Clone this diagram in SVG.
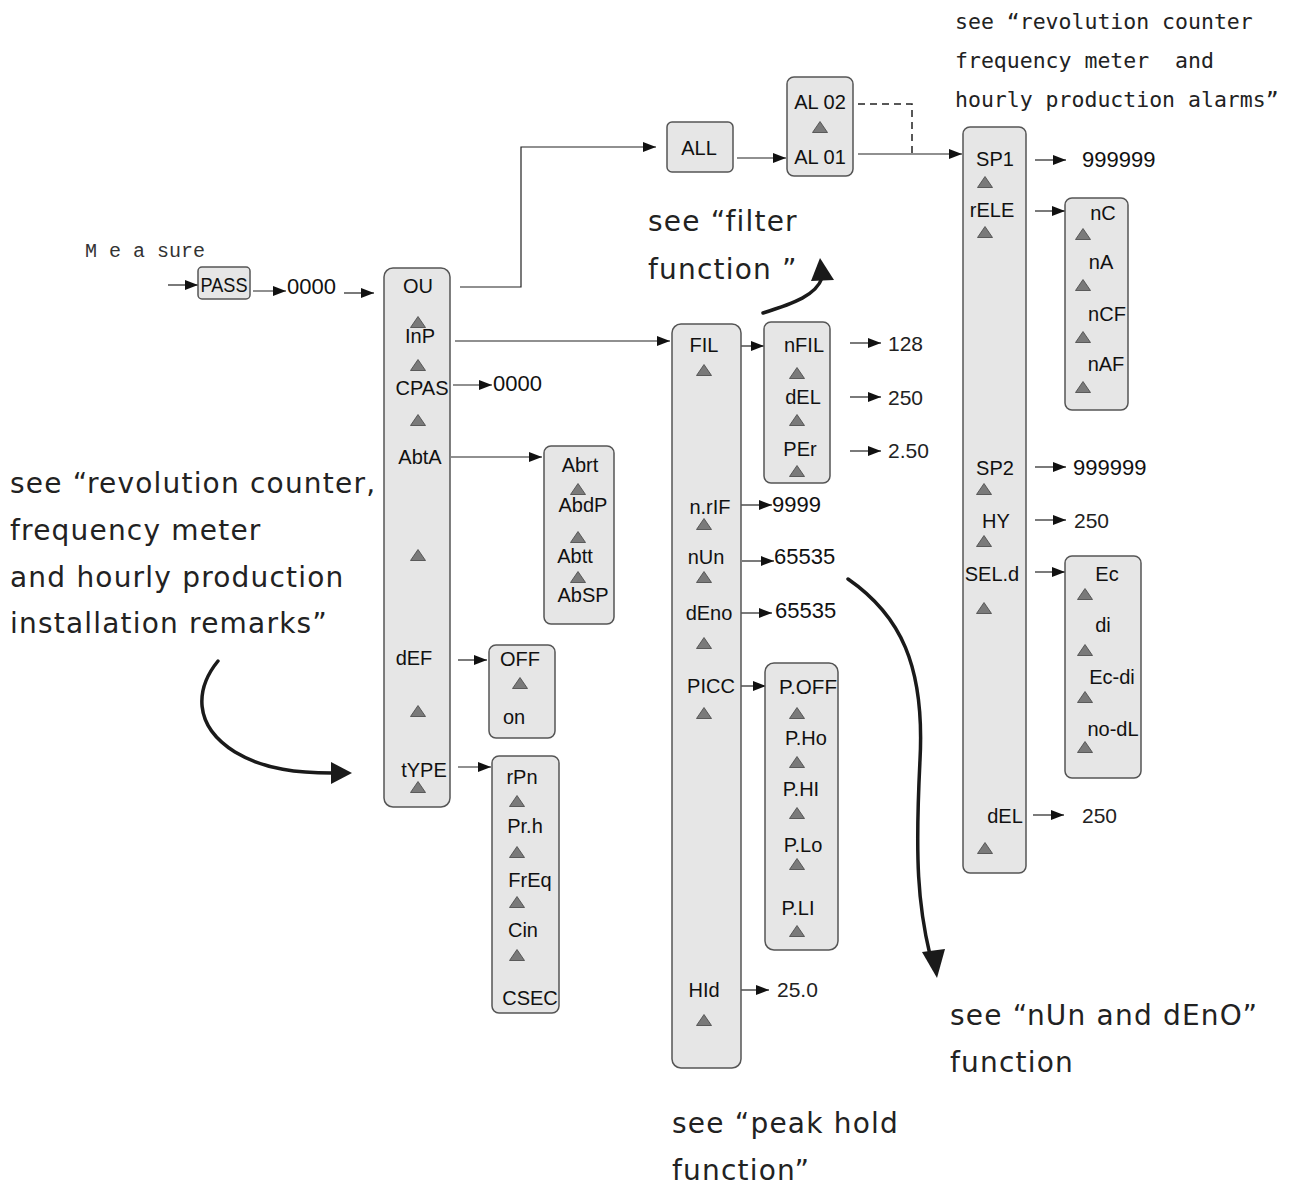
<svg xmlns="http://www.w3.org/2000/svg" xmlns:xlink="http://www.w3.org/1999/xlink" width="1300" height="1187" viewBox="0 0 1300 1187">
  <style>
    .box { fill: #e6e6e6; stroke: #555; stroke-width: 1.5; }
    .lbl { font-family: "Liberation Sans", Arial, sans-serif; font-size: 20px; fill: #111; text-anchor: middle; }
    .num { font-family: "Liberation Sans", Arial, sans-serif; font-size: 22px; fill: #111; }
    .val { font-family: "Liberation Sans", Arial, sans-serif; font-size: 21px; fill: #222; }
    .note { font-family: "DejaVu Sans", Verdana, sans-serif; font-size: 28px; letter-spacing: 1.2px; fill: #222; }
    .mono { font-family: "DejaVu Sans Mono", "Liberation Mono", monospace; font-size: 21.5px; fill: #222; }
    .meas { font-family: "Liberation Mono", monospace; font-size: 20px; fill: #333; }
    .wire { fill: none; stroke: #222; stroke-width: 1.2; }
    .dash { fill: none; stroke: #222; stroke-width: 1.5; stroke-dasharray: 7 5; }
    .bend { fill: none; stroke: #1a1a1a; stroke-width: 3.5; stroke-linecap: round; }
    .head { fill: #1a1a1a; }
  </style>
  <defs>
    <marker id="arr" viewBox="0 0 13 10" refX="13" refY="5" markerWidth="13" markerHeight="10" markerUnits="userSpaceOnUse" orient="auto">
      <path d="M0,0 L13,5 L0,10 Z" fill="#111"/>
    </marker>
    <path id="tri" d="M0,-5.5 L7.5,5.5 L-7.5,5.5 Z" fill="#7a7a7a" stroke="#444" stroke-width="0.8"/>
  </defs>

  <!-- free text notes -->
  <g id="notes">
    <text class="mono" x="955" y="29">see “revolution counter</text>
    <text class="mono" x="955" y="68" xml:space="preserve">frequency meter  and</text>
    <text class="mono" x="955" y="107">hourly production alarms”</text>
    <text class="meas" x="85" y="257" xml:space="preserve">M e a sure</text>
    <text class="note" x="648" y="231">see “filter</text>
    <text class="note" x="648" y="279">function ”</text>
    <text class="note" x="10" y="493">see “revolution counter,</text>
    <text class="note" x="10" y="540">frequency meter</text>
    <text class="note" x="10" y="587">and hourly production</text>
    <text class="note" x="10" y="633">installation remarks”</text>
    <text class="note" x="950" y="1025">see “nUn and dEnO”</text>
    <text class="note" x="950" y="1072">function</text>
    <text class="note" x="672" y="1133">see “peak hold</text>
    <text class="note" x="672" y="1180">function”</text>
  </g>

  <!-- connectors -->
  <g id="connectors">
    <line class="wire" x1="168" y1="285" x2="198" y2="285" marker-end="url(#arr)"/>
    <line class="wire" x1="253" y1="291" x2="286" y2="291" marker-end="url(#arr)"/>
    <line class="wire" x1="344" y1="293" x2="374" y2="293" marker-end="url(#arr)"/>
    <polyline class="wire" points="460,287 521,287 521,147 656,147" marker-end="url(#arr)"/>
    <line class="wire" x1="737" y1="158" x2="786" y2="158" marker-end="url(#arr)"/>
    <line class="wire" x1="858" y1="154" x2="962" y2="154" marker-end="url(#arr)"/>
    <polyline class="dash" points="858,104 912,104 912,154"/>
    <line class="wire" x1="455" y1="341" x2="670" y2="341" marker-end="url(#arr)"/>
    <line class="wire" x1="453" y1="385" x2="492" y2="385" marker-end="url(#arr)"/>
    <line class="wire" x1="451" y1="457" x2="542" y2="457" marker-end="url(#arr)"/>
    <line class="wire" x1="458" y1="660" x2="487" y2="660" marker-end="url(#arr)"/>
    <line class="wire" x1="458" y1="767" x2="491" y2="767" marker-end="url(#arr)"/>
    <line class="wire" x1="736" y1="346" x2="764" y2="346" marker-end="url(#arr)"/>
    <line class="wire" x1="850" y1="343" x2="881" y2="343" marker-end="url(#arr)"/>
    <line class="wire" x1="850" y1="397" x2="881" y2="397" marker-end="url(#arr)"/>
    <line class="wire" x1="850" y1="451" x2="881" y2="451" marker-end="url(#arr)"/>
    <line class="wire" x1="741" y1="505" x2="772" y2="505" marker-end="url(#arr)"/>
    <line class="wire" x1="742" y1="561" x2="774" y2="561" marker-end="url(#arr)"/>
    <line class="wire" x1="741" y1="613" x2="772" y2="613" marker-end="url(#arr)"/>
    <line class="wire" x1="735" y1="686" x2="766" y2="686" marker-end="url(#arr)"/>
    <line class="wire" x1="738" y1="990" x2="769" y2="990" marker-end="url(#arr)"/>
    <line class="wire" x1="1035" y1="160" x2="1066" y2="160" marker-end="url(#arr)"/>
    <line class="wire" x1="1035" y1="211" x2="1065" y2="211" marker-end="url(#arr)"/>
    <line class="wire" x1="1035" y1="467" x2="1066" y2="467" marker-end="url(#arr)"/>
    <line class="wire" x1="1035" y1="520" x2="1066" y2="520" marker-end="url(#arr)"/>
    <line class="wire" x1="1035" y1="572" x2="1065" y2="572" marker-end="url(#arr)"/>
    <line class="wire" x1="1033" y1="815" x2="1064" y2="815" marker-end="url(#arr)"/>

    <!-- bold pointer arrows to the referenced sections -->
    <path class="bend" d="M218,661 C196,688 192,725 235,752 C265,770 300,773 332,773"/>
    <path class="head" d="M352,773 L331,762 L331,784 Z"/>
    <path class="bend" d="M763,313 C795,303 816,295 822,278"/>
    <path class="head" d="M820,258 L811,281 L834,280 Z"/>
    <path class="bend" d="M848,579 C900,615 925,665 920,760 C915,860 918,905 930,955"/>
    <path class="head" d="M937,978 L922,952 L945,949 Z"/>
  </g>

  <!-- entry -->
  <g id="pass">
    <rect class="box" x="198" y="267" width="52" height="32" rx="4"/>
    <text class="lbl" x="224" y="292" textLength="47" lengthAdjust="spacingAndGlyphs">PASS</text>
  </g>
  <text id="pass-code" class="num" x="287" y="294">0000</text>

  <!-- main menu column -->
  <g id="menu-main">
    <rect class="box" x="384" y="268" width="66" height="539" rx="9"/>
    <text class="lbl" x="418" y="293">OU</text>
    <use xlink:href="#tri" x="418" y="322"/>
    <text class="lbl" x="420" y="343">InP</text>
    <use xlink:href="#tri" x="418" y="365"/>
    <text class="lbl" x="422" y="395">CPAS</text>
    <use xlink:href="#tri" x="418" y="420"/>
    <text class="lbl" x="420" y="464">AbtA</text>
    <use xlink:href="#tri" x="418" y="555"/>
    <text class="lbl" x="414" y="665">dEF</text>
    <use xlink:href="#tri" x="418" y="711"/>
    <text class="lbl" x="424" y="777">tYPE</text>
    <use xlink:href="#tri" x="418" y="787"/>
  </g>
  <text id="cpas-code" class="num" x="493" y="391">0000</text>

  <g id="menu-abta">
    <rect class="box" x="544" y="446" width="70" height="178" rx="7"/>
    <text class="lbl" x="580" y="472">Abrt</text>
    <use xlink:href="#tri" x="578" y="489"/>
    <text class="lbl" x="583" y="512">AbdP</text>
    <use xlink:href="#tri" x="578" y="537"/>
    <text class="lbl" x="575" y="563">Abtt</text>
    <use xlink:href="#tri" x="578" y="577"/>
    <text class="lbl" x="583" y="602">AbSP</text>
  </g>

  <g id="menu-def">
    <rect class="box" x="489" y="645" width="66" height="93" rx="7"/>
    <text class="lbl" x="520" y="666">OFF</text>
    <use xlink:href="#tri" x="520" y="683"/>
    <text class="lbl" x="514" y="724">on</text>
  </g>

  <g id="menu-type">
    <rect class="box" x="492" y="756" width="67" height="257" rx="7"/>
    <text class="lbl" x="522" y="784">rPn</text>
    <use xlink:href="#tri" x="517" y="801"/>
    <text class="lbl" x="525" y="833">Pr.h</text>
    <use xlink:href="#tri" x="517" y="852"/>
    <text class="lbl" x="530" y="887">FrEq</text>
    <use xlink:href="#tri" x="517" y="902"/>
    <text class="lbl" x="523" y="937">Cin</text>
    <use xlink:href="#tri" x="517" y="955"/>
    <text class="lbl" x="530" y="1005">CSEC</text>
  </g>

  <!-- output / alarm branch -->
  <g id="menu-all">
    <rect class="box" x="667" y="122" width="66" height="50" rx="5"/>
    <text class="lbl" x="699" y="155">ALL</text>
  </g>
  <g id="menu-alarm">
    <rect class="box" x="787" y="77" width="66" height="99" rx="7"/>
    <text class="lbl" x="820" y="109">AL 02</text>
    <use xlink:href="#tri" x="820" y="127"/>
    <text class="lbl" x="820" y="164">AL 01</text>
  </g>

  <g id="menu-setpoint">
    <rect class="box" x="963" y="127" width="63" height="746" rx="7"/>
    <text class="lbl" x="995" y="166">SP1</text>
    <use xlink:href="#tri" x="985" y="182"/>
    <text class="lbl" x="992" y="217">rELE</text>
    <use xlink:href="#tri" x="985" y="232"/>
    <text class="lbl" x="995" y="475">SP2</text>
    <use xlink:href="#tri" x="984" y="489"/>
    <text class="lbl" x="996" y="528">HY</text>
    <use xlink:href="#tri" x="984" y="541"/>
    <text class="lbl" x="992" y="581">SEL.d</text>
    <use xlink:href="#tri" x="984" y="608"/>
    <text class="lbl" x="1005" y="823">dEL</text>
    <use xlink:href="#tri" x="985" y="848"/>
  </g>
  <text class="num" x="1082" y="167">999999</text>
  <text class="num" x="1073" y="475">999999</text>
  <text class="val" x="1074" y="528">250</text>
  <text class="val" x="1082" y="823">250</text>

  <g id="menu-relay">
    <rect class="box" x="1065" y="198" width="63" height="212" rx="7"/>
    <text class="lbl" x="1103" y="220">nC</text>
    <use xlink:href="#tri" x="1083" y="234"/>
    <text class="lbl" x="1101" y="269">nA</text>
    <use xlink:href="#tri" x="1083" y="285"/>
    <text class="lbl" x="1107" y="321">nCF</text>
    <use xlink:href="#tri" x="1083" y="337"/>
    <text class="lbl" x="1106" y="371">nAF</text>
    <use xlink:href="#tri" x="1083" y="387"/>
  </g>

  <g id="menu-seld">
    <rect class="box" x="1065" y="556" width="76" height="222" rx="7"/>
    <text class="lbl" x="1107" y="581">Ec</text>
    <use xlink:href="#tri" x="1085" y="594"/>
    <text class="lbl" x="1103" y="632">di</text>
    <use xlink:href="#tri" x="1085" y="650"/>
    <text class="lbl" x="1112" y="684">Ec-di</text>
    <use xlink:href="#tri" x="1085" y="697"/>
    <text class="lbl" x="1113" y="736">no-dL</text>
    <use xlink:href="#tri" x="1085" y="747"/>
  </g>

  <!-- input branch -->
  <g id="menu-input">
    <rect class="box" x="672" y="324" width="69" height="744" rx="9"/>
    <text class="lbl" x="704" y="352">FIL</text>
    <use xlink:href="#tri" x="704" y="370"/>
    <text class="lbl" x="710" y="514">n.rIF</text>
    <use xlink:href="#tri" x="704" y="524"/>
    <text class="lbl" x="706" y="564">nUn</text>
    <use xlink:href="#tri" x="704" y="577"/>
    <text class="lbl" x="709" y="620">dEno</text>
    <use xlink:href="#tri" x="704" y="643"/>
    <text class="lbl" x="711" y="693">PICC</text>
    <use xlink:href="#tri" x="704" y="713"/>
    <text class="lbl" x="704" y="997">HId</text>
    <use xlink:href="#tri" x="704" y="1020"/>
  </g>
  <text class="num" x="772" y="512">9999</text>
  <text class="num" x="774" y="564">65535</text>
  <text class="num" x="775" y="618">65535</text>
  <text class="val" x="777" y="997">25.0</text>

  <g id="menu-filter">
    <rect class="box" x="764" y="322" width="66" height="161" rx="7"/>
    <text class="lbl" x="804" y="352">nFIL</text>
    <use xlink:href="#tri" x="797" y="373"/>
    <text class="lbl" x="803" y="404">dEL</text>
    <use xlink:href="#tri" x="797" y="420"/>
    <text class="lbl" x="800" y="456">PEr</text>
    <use xlink:href="#tri" x="797" y="471"/>
  </g>
  <text class="val" x="888" y="351">128</text>
  <text class="val" x="888" y="405">250</text>
  <text class="val" x="888" y="458">2.50</text>

  <g id="menu-peak">
    <rect class="box" x="765" y="663" width="73" height="287" rx="9"/>
    <text class="lbl" x="808" y="694" textLength="58" lengthAdjust="spacingAndGlyphs">P.OFF</text>
    <use xlink:href="#tri" x="797" y="713"/>
    <text class="lbl" x="806" y="745">P.Ho</text>
    <use xlink:href="#tri" x="797" y="762"/>
    <text class="lbl" x="801" y="796">P.HI</text>
    <use xlink:href="#tri" x="797" y="813"/>
    <text class="lbl" x="803" y="852">P.Lo</text>
    <use xlink:href="#tri" x="797" y="864"/>
    <text class="lbl" x="798" y="915">P.LI</text>
    <use xlink:href="#tri" x="797" y="931"/>
  </g>
</svg>
